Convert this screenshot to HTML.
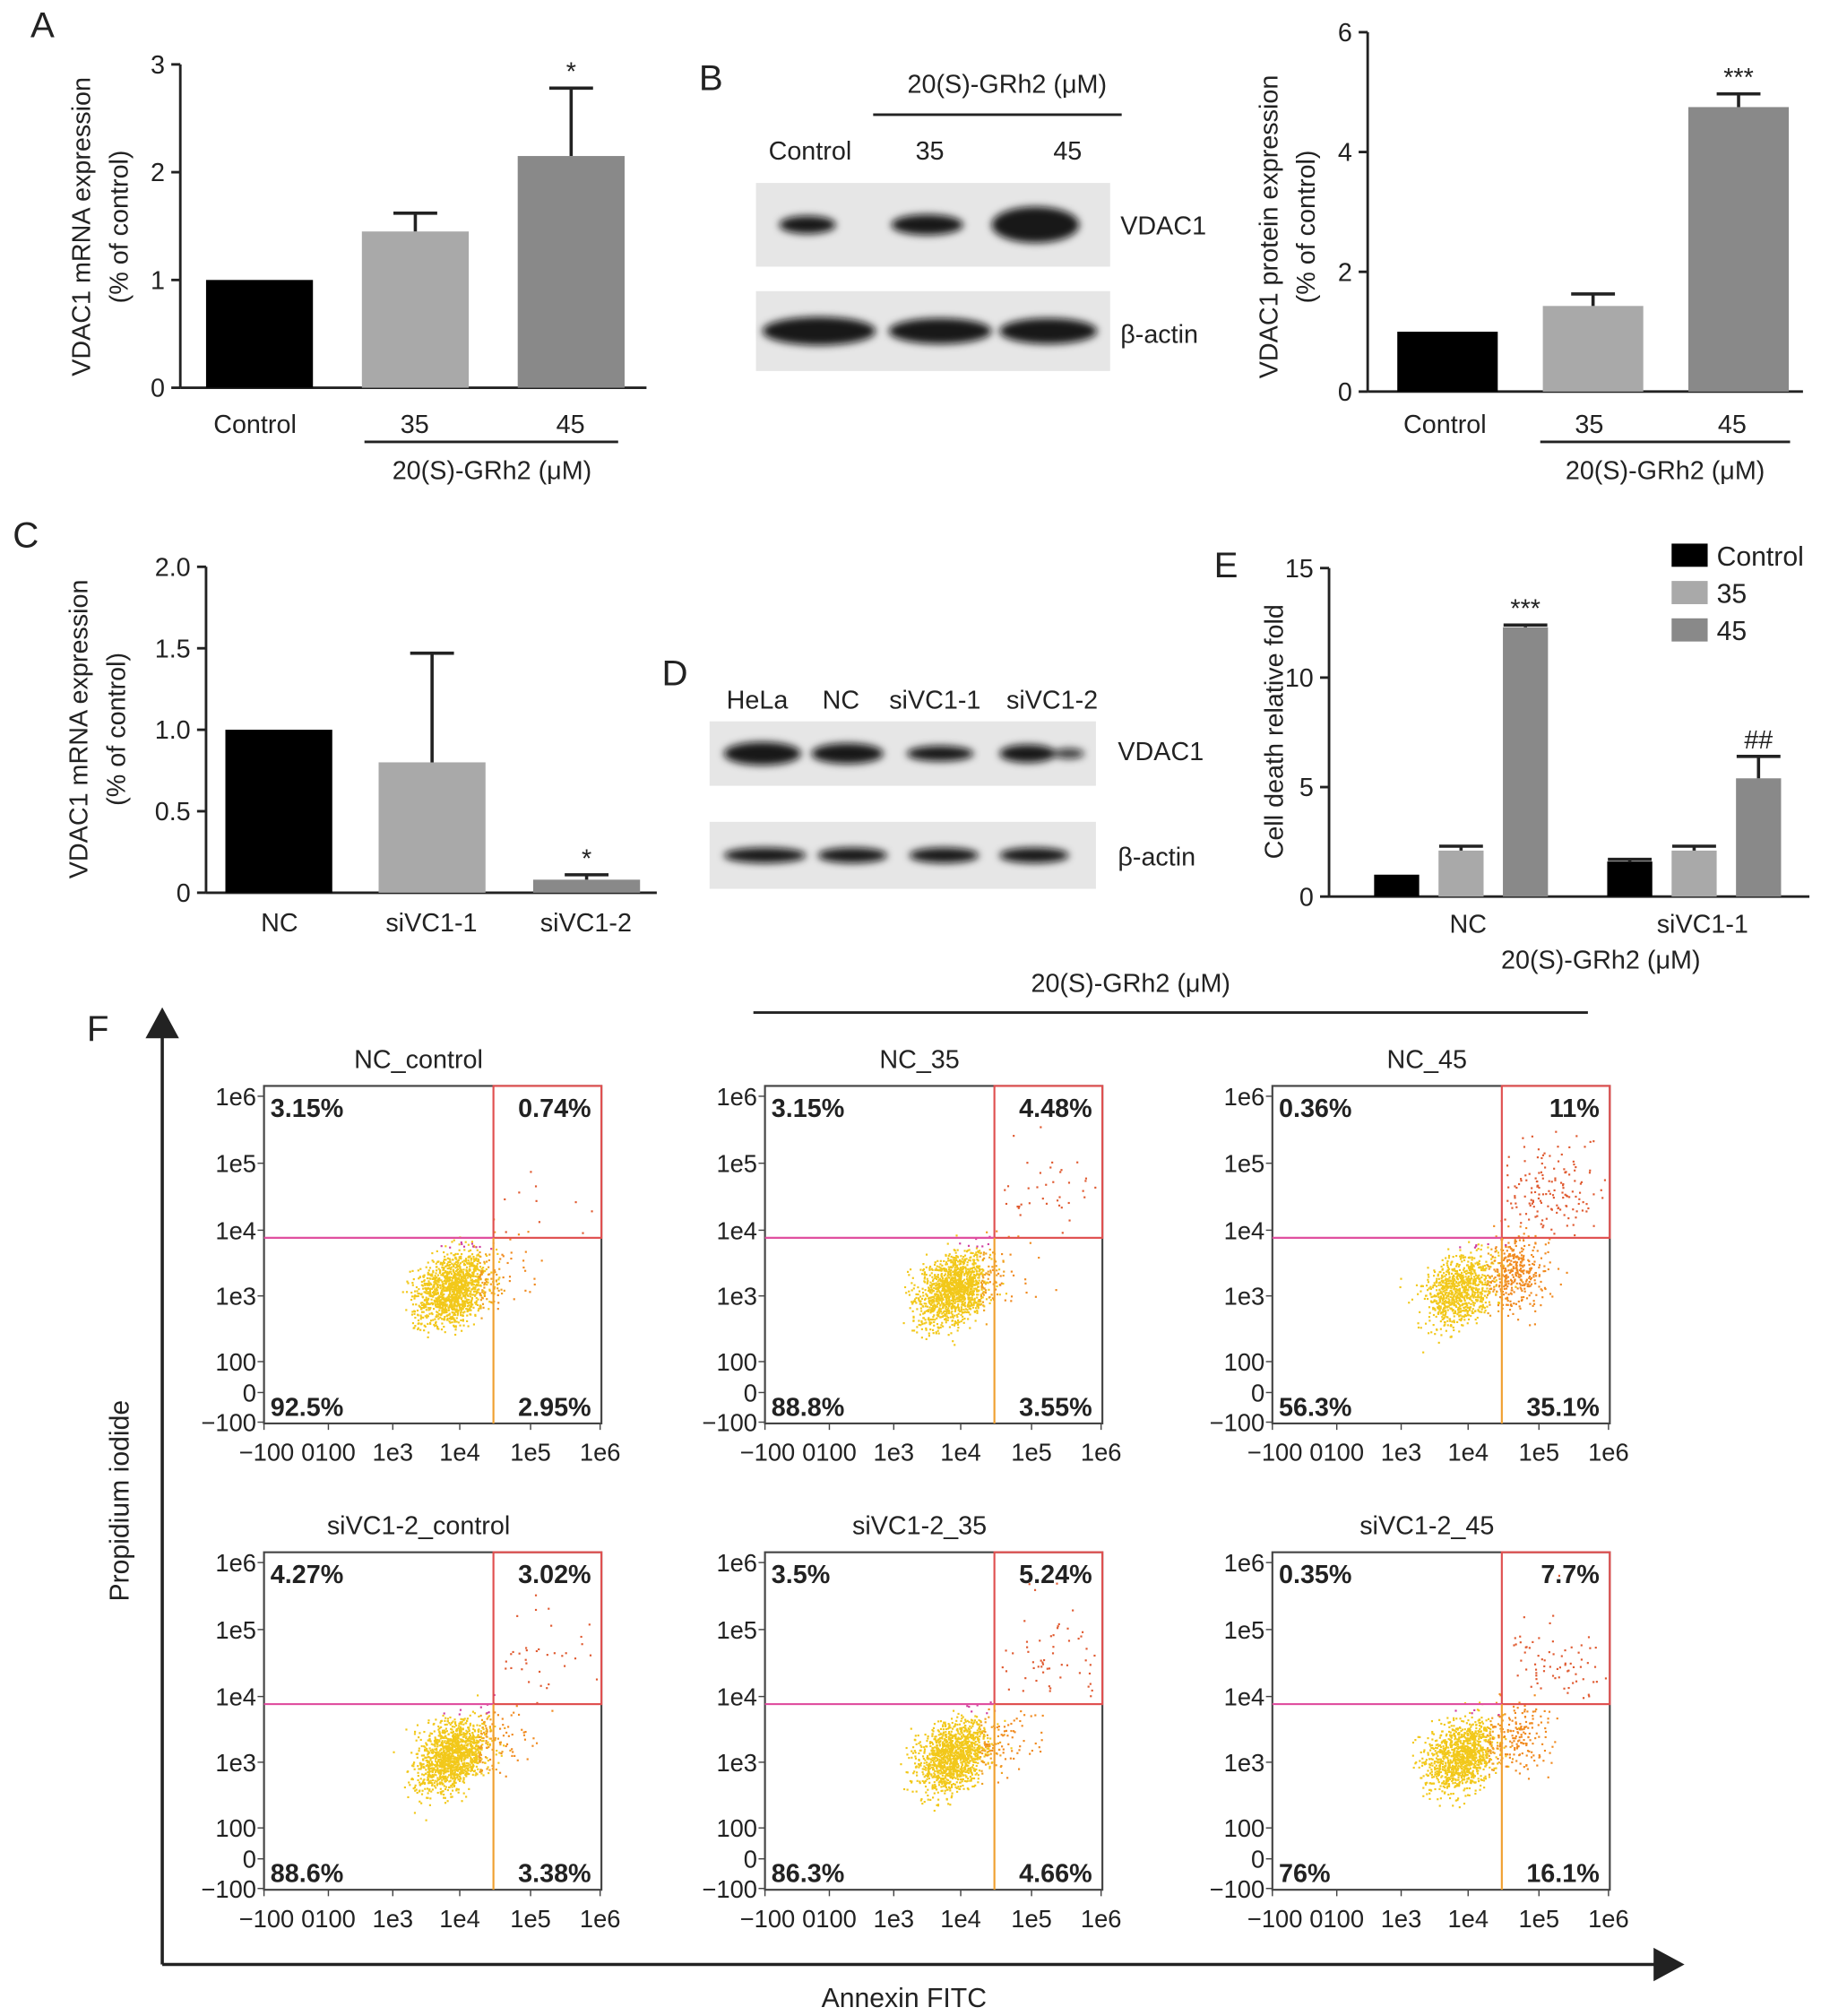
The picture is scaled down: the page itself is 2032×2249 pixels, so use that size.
<!DOCTYPE html>
<html><head><meta charset="utf-8"><style>
html,body{margin:0;padding:0;background:#fff}
svg{display:block}
text{font-family:"Liberation Sans",Arial,sans-serif;fill:#222}
</style></head><body>
<svg id="fig" width="2032" height="2249" viewBox="0 0 1414 1565" xmlns="http://www.w3.org/2000/svg">
<defs><filter id="blur" x="-20%" y="-50%" width="140%" height="200%"><feGaussianBlur stdDeviation="3"/></filter></defs>
<g id="root"></g>
</svg>
<script>
// Panel A data
const aCats=["Control","35","45"];
const aVals=[1.0,1.45,2.15];
const aErr=[1.0,1.62,2.78];
const aTicks=[0,1,2,3];
// Panel B chart
const bCats=["Control","35","45"];
const bVals=[1.0,1.43,4.75];
const bErr=[1.0,1.63,4.97];
const bTicks=[0,2,4,6];
// Panel C
const cCats=["NC","siVC1-1","siVC1-2"];
const cVals=[1.0,0.8,0.08];
const cErr=[1.0,1.47,0.11];
const cTicks=["0","0.5","1.0","1.5","2.0"];
// Panel E
const eGroups=["NC","siVC1-1"];
const eSeries=["Control","35","45"];
const eNC=[1.0,2.1,12.3];
const eNCerr=[1.0,2.3,12.4];
const eSi=[1.6,2.1,5.4];
const eSiErr=[1.7,2.3,6.4];
const eTicks=[0,5,10,15];
// Panel F
const fTitles=["NC_control","NC_35","NC_45","siVC1-2_control","siVC1-2_35","siVC1-2_45"];
const fUL=["3.15%","3.15%","0.36%","4.27%","3.5%","0.35%"];
const fUR=["0.74%","4.48%","11%","3.02%","5.24%","7.7%"];
const fLL=["92.5%","88.8%","56.3%","88.6%","86.3%","76%"];
const fLR=["2.95%","3.55%","35.1%","3.38%","4.66%","16.1%"];
const fYTicks=["1e6","1e5","1e4","1e3","100","0","\u2212100"];
const fXTicks=["\u2212100","0100","1e3","1e4","1e5","1e6"];

const NS="http://www.w3.org/2000/svg";
const root=document.getElementById('root');
function el(tag,attrs,parent,txt){const e=document.createElementNS(NS,tag);for(const k in attrs)e.setAttribute(k,attrs[k]);if(txt!==undefined)e.textContent=txt;(parent||root).appendChild(e);return e;}
function T(x,y,s,size,anchor,parent,extra){const e=el('text',Object.assign({x:x,y:y,'font-size':size||20,'text-anchor':anchor||'middle'},extra||{}),parent,s);return e;}

function barChart(o){
  const g=el('g',{});
  
  
  const ys=v=>o.y0-(v-o.min)/(o.max-o.min)*(o.y0-o.y1);
  el('line',{x1:o.ax,y1:o.y1,x2:o.ax,y2:o.y0,stroke:'#222','stroke-width':2},g);
  el('line',{x1:o.ax,y1:o.y0,x2:o.xend,y2:o.y0,stroke:'#222','stroke-width':2},g);
  o.ticks.forEach(t=>{const v=parseFloat(t);const y=ys(v);
    el('line',{x1:o.ax-7,y1:y,x2:o.ax,y2:y,stroke:'#222','stroke-width':2},g);
    const tx=T(o.ax-12,y+7,String(t),20,'end',g);
    });
  o.bars.forEach((b,i)=>{
    const r=el('rect',{x:b.x,y:ys(b.v),width:b.w,height:o.y0-ys(b.v),fill:b.c},g);
    
    if(b.e>b.v+0.005){const cx=b.x+b.w/2;
      el('line',{x1:cx,y1:ys(b.v),x2:cx,y2:ys(b.e),stroke:'#222','stroke-width':2.5},g);
      el('line',{x1:cx-17,y1:ys(b.e),x2:cx+17,y2:ys(b.e),stroke:'#222','stroke-width':2.5},g);}
    if(b.star)T(b.x+b.w/2,ys(b.e)-6,b.star,20,'middle',g);
  });
  return {g,ys};
}
const cols=['#000','#a9a9a9','#898989'];

// Panel A
T(33,29,'A',28,'middle');
barChart({name:'panel-a-chart',ax:140,y0:301,y1:50,min:0,max:3,xend:502,ticks:aTicks,
 bars:aCats.map((c,i)=>({x:[160,281,402][i],w:83,v:aVals[i],e:aErr[i],c:cols[i],star:i==2?'*':''}))});
aCats.forEach((c,i)=>T([198,322,443][i],336,c,20));
el('line',{x1:283,y1:343,x2:480,y2:343,stroke:'#222','stroke-width':2});
T(382,372,'20(S)-GRh2 (μM)',20);
T(70,176,'VDAC1 mRNA expression',20,'middle',null,{transform:'rotate(-90 70 176)'});
T(99,176,'(% of control)',20,'middle',null,{transform:'rotate(-90 99 176)'});

function blot(x,y,w,h,bands,name){const g=el('g',{});
 el('rect',{x:x,y:y,width:w,height:h,fill:'#e6e6e6'},g);
 const bg=el('g',{filter:'url(#blur)'},g);
 bands.forEach(b=>el('ellipse',{cx:b[0],cy:y+h/2,rx:b[1],ry:b[2],fill:'#111',opacity:b[3]||0.95},bg));}
// Panel B blot
T(552,70,'B',28);
T(782,72,'20(S)-GRh2 (μM)',20);
el('line',{x1:678,y1:89,x2:871,y2:89,stroke:'#222','stroke-width':2});
T(629,124,'Control',20);T(722,124,'35',20);T(829,124,'45',20);
blot(587,142,275,65,[[627,22,7],[720,28,8],[804,34,14]],'vdac1-blot-b');
blot(587,226,275,62,[[636,44,11],[730,40,10],[814,38,10]],'actin-blot-b');
T(870,182,'VDAC1',20,'start');T(870,266,'β-actin',20,'start');

// Panel B chart
barChart({name:'panel-b-chart',ax:1062,y0:304,y1:25,min:0,max:6,xend:1400,ticks:bTicks,
 bars:bCats.map((c,i)=>({x:[1085,1198,1311][i],w:78,v:bVals[i],e:bErr[i],c:cols[i],star:i==2?'***':''}))});
bCats.forEach((c,i)=>T([1122,1234,1345][i],336,c,20));
el('line',{x1:1196,y1:343,x2:1390,y2:343,stroke:'#222','stroke-width':2});
T(1293,372,'20(S)-GRh2 (μM)',20);
T(992,176,'VDAC1 protein expression',20,'middle',null,{transform:'rotate(-90 992 176)'});
T(1021,176,'(% of control)',20,'middle',null,{transform:'rotate(-90 1021 176)'});

// Panel C
T(20,425,'C',28);
barChart({name:'panel-c-chart',ax:160,y0:693,y1:440,min:0,max:2,xend:510,ticks:cTicks,
 bars:cCats.map((c,i)=>({x:[175,294,414][i],w:83,v:cVals[i],e:cErr[i],c:cols[i],star:i==2?'*':''}))});
cCats.forEach((c,i)=>T([217,335,455][i],723,c,20));
T(68,566,'VDAC1 mRNA expression',20,'middle',null,{transform:'rotate(-90 68 566)'});
T(97,566,'(% of control)',20,'middle',null,{transform:'rotate(-90 97 566)'});

// Panel D
T(524,532,'D',28);
T(588,550,'HeLa',20);T(653,550,'NC',20);T(726,550,'siVC1-1',20);T(817,550,'siVC1-2',20);
blot(551,560,300,50,[[592,30,9],[658,28,8],[730,26,6],[798,22,7],[830,12,4,0.8]],'vdac1-blot-d');
blot(551,638,300,52,[[594,32,6],[662,27,6],[733,27,6],[803,27,6]],'actin-blot-d');
T(868,590,'VDAC1',20,'start');T(868,672,'β-actin',20,'start');

// Panel E
T(952,448,'E',28);
const eBars=[];
const eCols=['#000','#a9a9a9','#898989'];
eNC.forEach((v,i)=>eBars.push({x:1067+50*i,w:35,v:v,e:eNCerr[i],c:eCols[i],star:i==2?'***':''}));
eSi.forEach((v,i)=>eBars.push({x:1248+50*i,w:35,v:v,e:eSiErr[i],c:eCols[i],star:i==2?'##':''}));
barChart({name:'panel-e-chart',ax:1032,y0:696,y1:441,min:0,max:15,xend:1405,ticks:eTicks,bars:eBars});
T(1140,724,'NC',20);T(1322,724,'siVC1-1',20);T(1243,752,'20(S)-GRh2 (μM)',20);
T(996,568,'Cell death relative fold',20,'middle',null,{transform:'rotate(-90 996 568)'});
eSeries.forEach((s,i)=>{const g=el('g',{});
 el('rect',{x:1298,y:422+29*i,width:28,height:18,fill:eCols[i]},g);T(1333,439+29*i,s,21,'start',g);});

// Panel F
T(76,808,'F',28);
T(878,770,'20(S)-GRh2 (μM)',20);
el('line',{x1:585,y1:786,x2:1233,y2:786,stroke:'#222','stroke-width':2});
el('line',{x1:126,y1:800,x2:126,y2:1525,stroke:'#222','stroke-width':2.5});
el('polygon',{points:'113,806 139,806 126,782',fill:'#222'});
el('line',{x1:126,y1:1525,x2:1290,y2:1525,stroke:'#222','stroke-width':2.5});
el('polygon',{points:'1284,1512 1284,1538 1308,1525',fill:'#222'});
T(100,1165,'Propidium iodide',21,'middle',null,{transform:'rotate(-90 100 1165)'});
T(702,1558,'Annexin FITC',21);
let seed=7;function rnd(){seed=(seed*16807)%2147483647;return (seed-1)/2147483646;}
function gauss(){return (rnd()+rnd()+rnd()+rnd()-2)*1.2;}
const fX=[205,594,988],fY=[843,1205];
const apopt=[0.03,0.05,0.35,0.05,0.07,0.18];
const upFrac=[0.3,0.5,0.35,0.5,0.5,0.35];
fTitles.forEach((t,k)=>{
 const x0=fX[k%3],y0=fY[Math.floor(k/3)],W=262,H=262;
 const g=el('g',{});
 T(x0+120,y0-14,t,20,'middle',g);
 const vx=x0+W*0.68,hy=y0+H*0.45;
 const n=1400;
 for(let i=0;i<n;i++){
   let px,py,c;
   const r=rnd();
   if(r<apopt[k]){
     if(rnd()<upFrac[k]){px=vx+Math.abs(gauss())*30+rnd()*50;py=hy-Math.abs(gauss())*40-rnd()*30;c='#e05a30';}
     else{px=vx-10+Math.abs(gauss())*22+rnd()*20;py=y0+H*0.55+gauss()*20;c='#f08a20';}
   }
   else{const a=gauss(),b=gauss();px=x0+W*0.56+a*20+b*5;py=y0+H*0.6-a*11+b*17;c=(px>vx-12&&rnd()<0.6)?'#f0a020':'#f2c81a';if(py<hy+8&&rnd()<0.6)c='#d040a0';}
   if(px<x0+2||px>x0+W-2||py<y0+2||py>y0+H-2)continue;
   el('rect',{x:px.toFixed(1),y:py.toFixed(1),width:1.5,height:1.5,fill:c},g);
 }
 el('rect',{x:x0,y:y0,width:W,height:H,fill:'none',stroke:'#444','stroke-width':1.5},g);
 el('rect',{x:vx,y:y0,width:x0+W-vx,height:hy-y0,fill:'none',stroke:'#e05050','stroke-width':1.5},g);
 el('line',{x1:x0,y1:hy,x2:vx,y2:hy,stroke:'#e050a0','stroke-width':1.5},g);
 el('line',{x1:vx,y1:hy,x2:vx,y2:y0+H,stroke:'#f0a030','stroke-width':1.5},g);
 T(x0+5,y0+24,fUL[k],20,'start',g,{'font-weight':'bold'});
 T(x0+W-8,y0+24,fUR[k],20,'end',g,{'font-weight':'bold'});
 T(x0+5,y0+H-6,fLL[k],20,'start',g,{'font-weight':'bold'});
 T(x0+W-8,y0+H-6,fLR[k],20,'end',g,{'font-weight':'bold'});
 const yo=[8,60,112,163,214,238,261];
 fYTicks.forEach((s,i)=>{el('line',{x1:x0-5,y1:y0+yo[i],x2:x0,y2:y0+yo[i],stroke:'#444'},g);T(x0-6,y0+yo[i]+7,s,19,'end',g);});
 const xo=[0,50,100,152,207,261];
 fXTicks.forEach((s,i)=>{el('line',{x1:x0+xo[i],y1:y0+H,x2:x0+xo[i],y2:y0+H+5,stroke:'#444'},g);T(x0+xo[i]+(i==0?2:0),y0+H+29,s,19,'middle',g);});
});
</script>
</body></html>
